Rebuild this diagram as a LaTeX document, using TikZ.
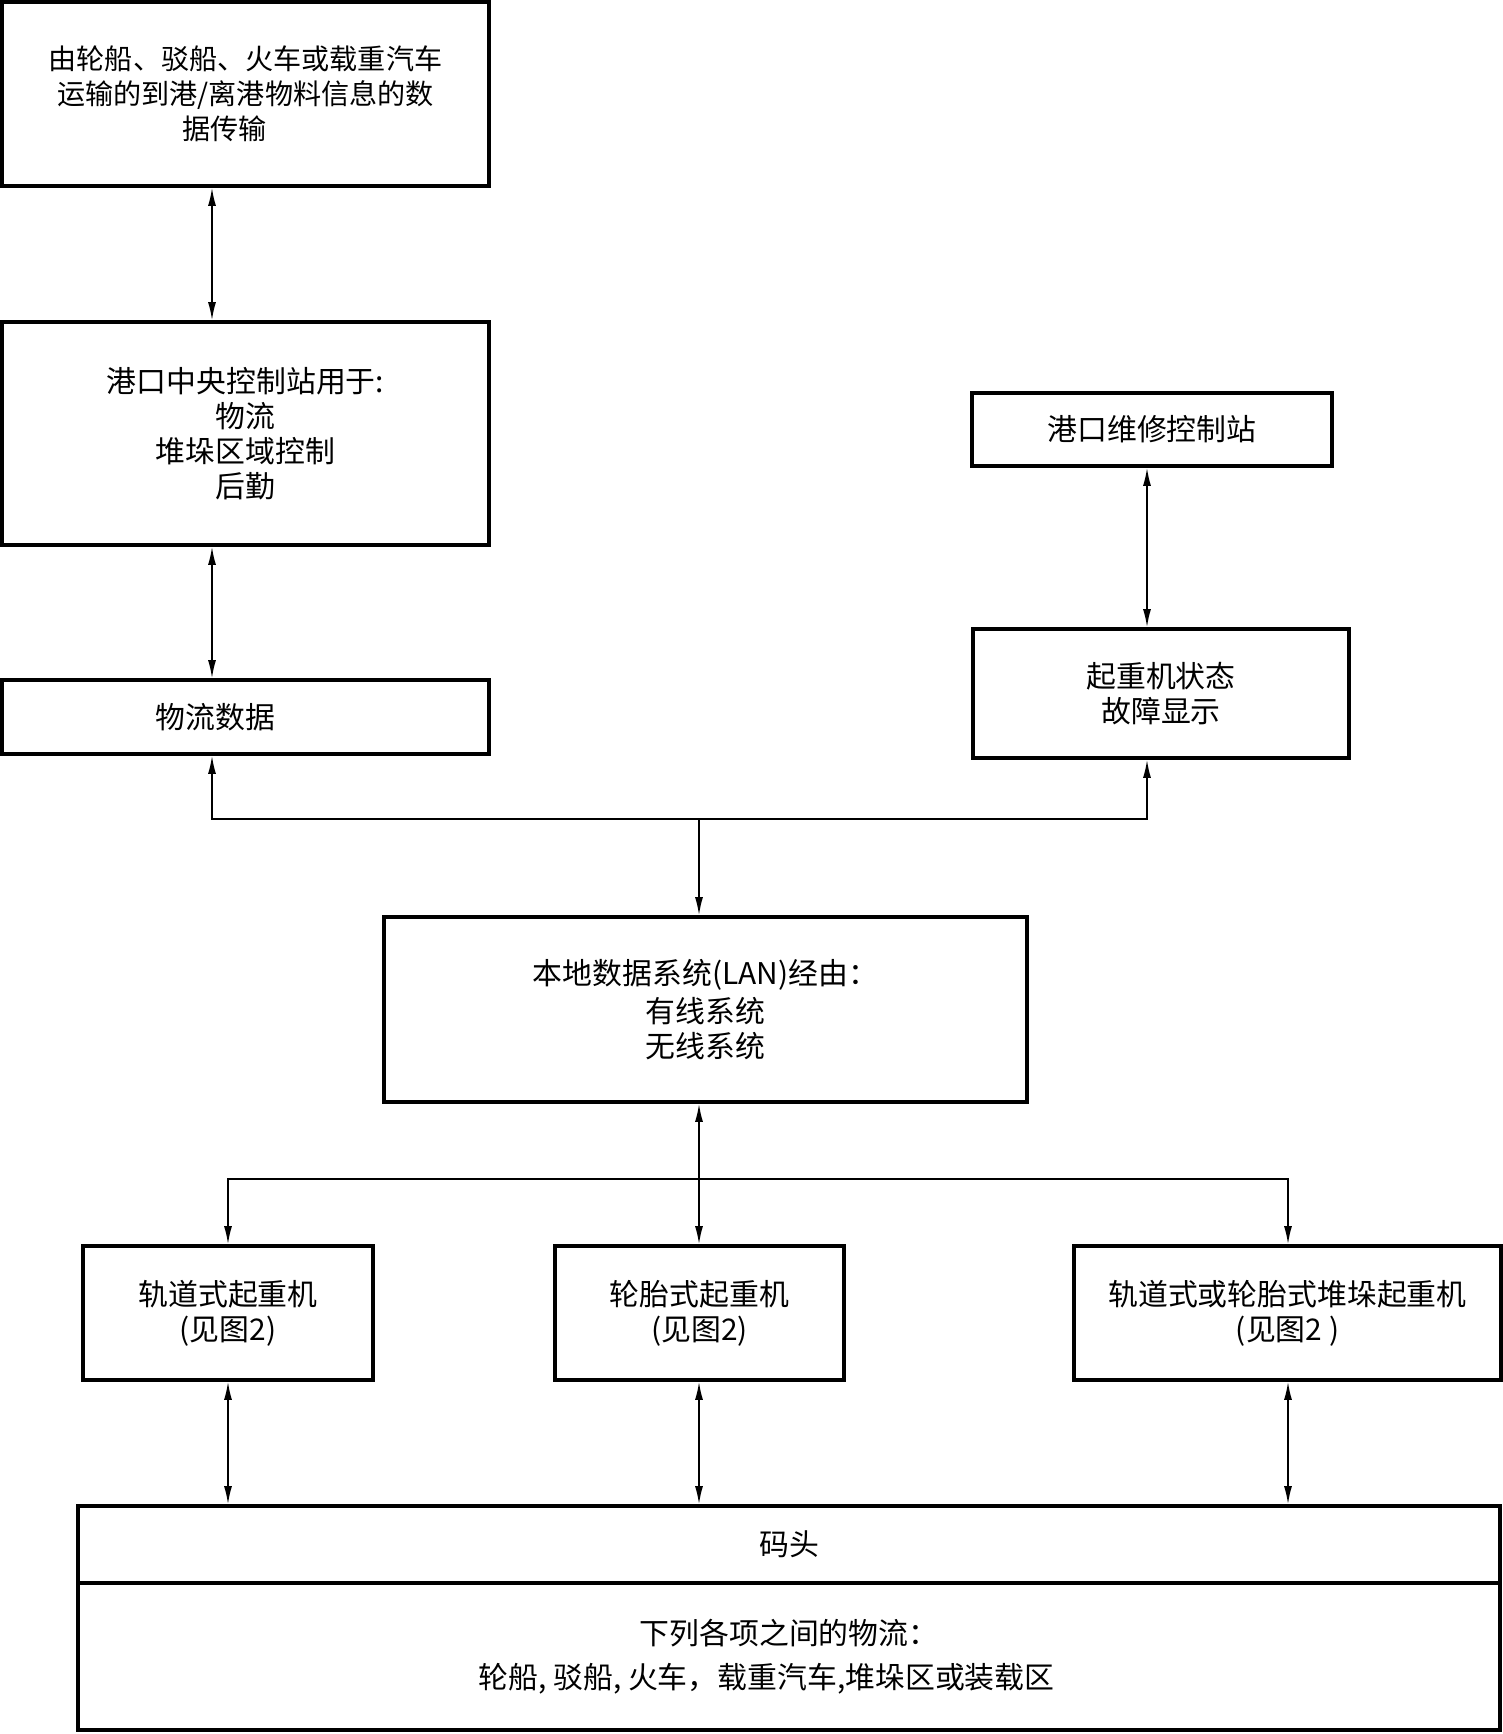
\documentclass[tikz,border=0pt]{standalone}
\usepackage{fontspec}
\setmainfont{Noto Sans CJK SC}
\usetikzlibrary{arrows.meta}

\begin{document}
\begin{tikzpicture}[> = {Latex[length = 3.6mm, width = 1.6mm]}, x = 0.02cm, y = -0.02cm,
	box/.style = {draw, line width = 2.1pt, align = center, inner sep = 0pt,
		font = \fontsize{17pt}{20pt}\selectfont},
	link/.style = {line width = 0.9pt}]

	\useasboundingbox (0, 0) rectangle (1503, 1734);

	% Left column
	
	\node [box, minimum width = 9.74cm, minimum height = 3.68cm,
		font = \fontsize{16pt}{20pt}\selectfont] (src) at (245.5, 94)
		{由轮船、驳船、火车或载重汽车\\运输的到港/离港物料信息的数\\\hspace*{-1.5em}据传输};
	\node [box, minimum width = 9.74cm, minimum height = 4.46cm] (central) at (245.5, 433.5)
		{港口中央控制站用于:\\物流\\堆垛区域控制\\后勤};
	\node [box, minimum width = 9.74cm, minimum height = 1.48cm] (logdata) at (245.5, 717)
		{物流数据\hspace*{2em}};
	
	% Right column
	
	\node [box, minimum width = 7.2cm, minimum height = 1.46cm] (maint) at (1152, 429.5)
		{港口维修控制站};
	\node [box, minimum width = 7.52cm, minimum height = 2.58cm] (status) at (1161, 693.5)
		{起重机状态\\故障显示};
	
	% LAN
	
	\node [box, minimum width = 12.86cm, minimum height = 3.7cm] (lan) at (705.5, 1009.5)
		{本地数据系统(LAN)经由：\\[2pt]有线系统\\无线系统};
	
	% Cranes
	
	\node [box, minimum width = 5.8cm, minimum height = 2.68cm] (railcrane) at (228, 1313)
		{轨道式起重机\\(见图2)};
	\node [box, minimum width = 5.78cm, minimum height = 2.68cm] (tyrecrane) at (699.5, 1313)
		{轮胎式起重机\\(见图2)};
	\node [box, minimum width = 8.54cm, minimum height = 2.68cm] (stackcrane) at (1287.5, 1313)
		{轨道式或轮胎式堆垛起重机\\(见图2 )};
	
	% Quay
	
	\node [box, minimum width = 28.44cm, minimum height = 1.54cm] (quay) at (789, 1544.5)
		{码头};
	\node [box, minimum width = 28.44cm, minimum height = 2.94cm] (quayflow) at (789, 1656.5)
		{下列各项之间的物流：\\[5pt]轮船, 驳船, 火车，载重汽车,堆垛区或装载区\hspace*{1.5em}};
	
	% Connectors
	
	\coordinate (busL) at (212, 819);
	\coordinate (busM) at (699, 819);
	\coordinate (busR) at (1147, 819);
	\coordinate (lowL) at (228, 1179);
	\coordinate (lowR) at (1288, 1179);
	
	\draw [link, <->] (src.south -| busL) -- (central.north -| busL);
	\draw [link, <->] (central.south -| busL) -- (logdata.north -| busL);
	\draw [link, <->] (maint.south -| busR) -- (status.north -| busR);
	
	\draw [link, <->] (logdata.south -| busL) -- (busL) -- (busR) -- (status.south -| busR);
	\draw [link, ->] (busM) -- (lan.north -| busM);
	
	\draw [link, <->] (lan.south -| busM) -- (tyrecrane.north -| busM);
	\draw [link, <->] (railcrane.north -| lowL) -- (lowL) -- (lowR) -- (stackcrane.north -| lowR);
	
	\draw [link, <->] (railcrane.south -| lowL) -- (quay.north -| lowL);
	\draw [link, <->] (tyrecrane.south -| busM) -- (quay.north -| busM);
	\draw [link, <->] (stackcrane.south -| lowR) -- (quay.north -| lowR);
	
\end{tikzpicture}
\end{document}
